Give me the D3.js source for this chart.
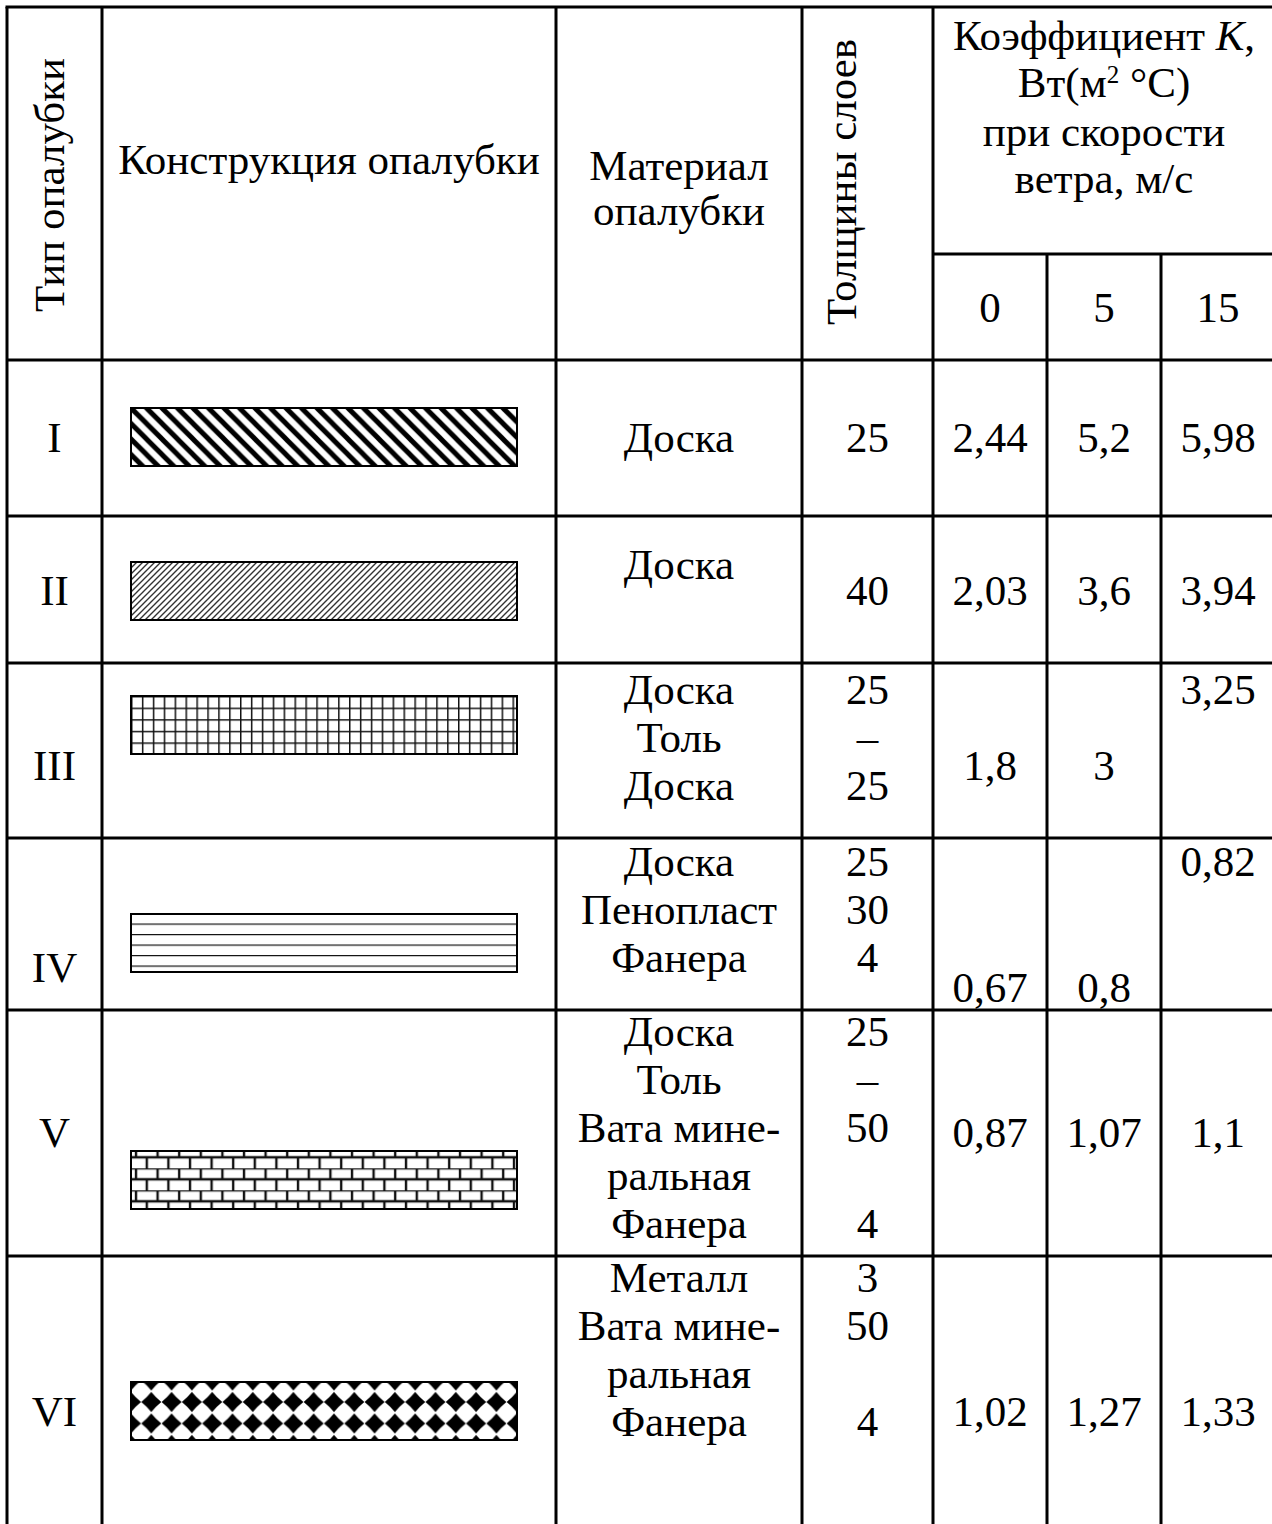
<!DOCTYPE html>
<html>
<head>
<meta charset="utf-8">
<script src="https://cdn.jsdelivr.net/npm/d3@7/dist/d3.min.js"></script>
<style>
  body { margin: 0; background: #fff; }
  text { font-family: "Liberation Serif", "Times New Roman", serif; font-size: 43px; fill: #000; }
</style>
</head>
<body>
<script>
// table data
var types = ['I', 'II', 'III', 'IV', 'V', 'VI'];
var patterns = ['hatchThick', 'hatchThin', 'grid', 'lines', 'brick', 'diamond'];
var materials = [
  ['Доска'],
  ['Доска'],
  ['Доска', 'Толь', 'Доска'],
  ['Доска', 'Пенопласт', 'Фанера'],
  ['Доска', 'Толь', 'Вата мине-', 'ральная', 'Фанера'],
  ['Металл', 'Вата мине-', 'ральная', 'Фанера']
];
var thickness = [
  ['25'],
  ['40'],
  ['25', '–', '25'],
  ['25', '30', '4'],
  ['25', '–', '50', '', '4'],
  ['3', '50', '', '4']
];
var windSpeeds = ['0', '5', '15'];
var k0 = ['2,44', '2,03', '1,8', '0,67', '0,87', '1,02'];
var k5 = ['5,2', '3,6', '3', '0,8', '1,07', '1,27'];
var k15 = ['5,98', '3,94', '3,25', '0,82', '1,1', '1,33'];

// layout
var W = 1272, H = 1524;
var colEdges = [7, 102, 556, 802, 933, 1047, 1161, 1275];
var headTop = 7, subLine = 254;
var rowEdges = [360, 516, 663, 838, 1010, 1256];
var lineH = 48;
var boxX = 131, boxW = 386, boxH = 58;
// per-row vertical anchors (centre of text lines)
var rowLayout = [
  {mat: 438, thick: 438, val: 438, num: 438, k15: 438, box: 437},
  {mat: 565, thick: 591, val: 591, num: 591, k15: 591, box: 591},
  {mat: 690, thick: 690, val: 766, num: 766, k15: 690, box: 725},
  {mat: 862, thick: 862, val: 988, num: 968, k15: 862, box: 943},
  {mat: 1032, thick: 1032, val: 1133, num: 1133, k15: 1133, box: 1180},
  {mat: 1278, thick: 1278, val: 1412, num: 1412, k15: 1412, box: 1411}
];
var base = 14; // centre -> baseline

function cx(i) { return (colEdges[i] + colEdges[i + 1]) / 2; }
function boxTop(r) { return rowLayout[r].box - boxH / 2; }

var svg = d3.select('body').append('svg')
  .attr('width', W).attr('height', H);

var defs = svg.append('defs');
function pat(id, r, w, h, dy) {
  return defs.append('pattern').attr('id', id).attr('patternUnits', 'userSpaceOnUse')
    .attr('x', boxX).attr('y', boxTop(r) + (dy || 0))
    .attr('width', w).attr('height', h);
}

// I: thick diagonal stripes
var p = pat('hatchThick', 0, 15.5, 15.5);
p.append('path').attr('d', 'M-4,-4 L19.5,19.5 M-4,11.5 L4,19.5 M11.5,-4 L19.5,4')
  .attr('stroke', '#000').attr('stroke-width', 5);

// II: thin diagonal stripes
p = pat('hatchThin', 1, 6, 6);
p.append('path').attr('d', 'M-2,8 L8,-2 M-2,2 L2,-2 M4,8 L8,4')
  .attr('stroke', '#333').attr('stroke-width', 1.4);

// III: grid
p = pat('grid', 2, 10.9, 11.6);
p.append('path').attr('d', 'M0,0 V11.6 M0,0 H10.9')
  .attr('stroke', '#111').attr('stroke-width', 3).attr('fill', 'none');

// IV: horizontal lines
p = pat('lines', 3, 20, 10.5, -1);
p.append('path').attr('d', 'M0,0 H20')
  .attr('stroke', '#111').attr('stroke-width', 2.4);

// V: brick
p = pat('brick', 4, 21.6, 22, -4.7);
p.append('path').attr('d', 'M0,0 H21.6 M0,11 H21.6 M5,0 V11 M15.8,11 V22')
  .attr('stroke', '#111').attr('stroke-width', 2.4).attr('fill', 'none');

// VI: black concave diamonds
p = pat('diamond', 5, 20.3, 21.5, -1.5);
p.append('rect').attr('width', 20.3).attr('height', 21.5).attr('fill', '#fff');
[[0, 0], [20.3, 0], [0, 21.5], [20.3, 21.5]].forEach(function(c) {
  var r = 10, q = 4.5;
  p.append('path')
    .attr('d', 'M' + (c[0] - r) + ',' + c[1] +
      ' Q' + (c[0] - q) + ',' + (c[1] - q) + ' ' + c[0] + ',' + (c[1] - r) +
      ' Q' + (c[0] + q) + ',' + (c[1] - q) + ' ' + (c[0] + r) + ',' + c[1] +
      ' Q' + (c[0] + q) + ',' + (c[1] + q) + ' ' + c[0] + ',' + (c[1] + r) +
      ' Q' + (c[0] - q) + ',' + (c[1] + q) + ' ' + (c[0] - r) + ',' + c[1] + 'Z')
    .attr('fill', '#000');
});

// grid lines
var g = svg.append('g').attr('stroke', '#000').attr('stroke-width', 3);
g.append('line').attr('x1', colEdges[0] - 1.5).attr('x2', colEdges[7]).attr('y1', headTop).attr('y2', headTop);
g.append('line').attr('x1', colEdges[4]).attr('x2', colEdges[7]).attr('y1', subLine).attr('y2', subLine);
rowEdges.forEach(function(y) {
  g.append('line').attr('x1', colEdges[0]).attr('x2', colEdges[7]).attr('y1', y).attr('y2', y);
});
colEdges.forEach(function(xv, i) {
  g.append('line').attr('x1', xv).attr('x2', xv)
    .attr('y1', (i === 5 || i === 6) ? subLine : headTop).attr('y2', H);
});

// headers
svg.append('text').attr('transform', 'translate(64,312) rotate(-90)').text('Тип опалубки');
svg.append('text').attr('x', cx(1)).attr('y', 174).attr('text-anchor', 'middle').text('Конструкция опалубки');
svg.append('text').attr('x', cx(2)).attr('y', 180).attr('text-anchor', 'middle').text('Материал');
svg.append('text').attr('x', cx(2)).attr('y', 225).attr('text-anchor', 'middle').text('опалубки');
svg.append('text').attr('transform', 'translate(856,325) rotate(-90)').text('Толщины слоев');

var kx = (colEdges[4] + colEdges[7]) / 2;
var t = svg.append('text').attr('x', kx).attr('y', 50).attr('text-anchor', 'middle');
t.append('tspan').text('Коэффициент ');
t.append('tspan').attr('font-style', 'italic').text('К');
t.append('tspan').text(',');
t = svg.append('text').attr('x', kx).attr('y', 97).attr('text-anchor', 'middle');
t.append('tspan').text('Вт(м');
t.append('tspan').attr('font-size', 25).attr('dy', -14).text('2');
t.append('tspan').attr('dy', 14).text(' °С)');
svg.append('text').attr('x', kx).attr('y', 146).attr('text-anchor', 'middle').text('при скорости');
svg.append('text').attr('x', kx).attr('y', 193).attr('text-anchor', 'middle').text('ветра, м/с');

svg.selectAll('text.speed').data(windSpeeds).enter().append('text')
  .attr('class', 'speed')
  .attr('x', function(d, i) { return cx(4 + i); })
  .attr('y', 322).attr('text-anchor', 'middle').text(function(d) { return d; });

// rows
types.forEach(function(tp, r) {
  var L = rowLayout[r];
  svg.append('text').attr('x', cx(0)).attr('y', L.num + base).attr('text-anchor', 'middle').text(tp);
  svg.append('rect').attr('x', boxX).attr('y', boxTop(r)).attr('width', boxW).attr('height', boxH)
    .attr('fill', 'url(#' + patterns[r] + ')').attr('stroke', '#000').attr('stroke-width', 2);
  materials[r].forEach(function(m, i) {
    svg.append('text').attr('x', cx(2)).attr('y', L.mat + i * lineH + base)
      .attr('text-anchor', 'middle').text(m);
  });
  thickness[r].forEach(function(m, i) {
    svg.append('text').attr('x', cx(3)).attr('y', L.thick + i * lineH + base)
      .attr('text-anchor', 'middle').text(m);
  });
  svg.append('text').attr('x', cx(4)).attr('y', L.val + base).attr('text-anchor', 'middle').text(k0[r]);
  svg.append('text').attr('x', cx(5)).attr('y', L.val + base).attr('text-anchor', 'middle').text(k5[r]);
  svg.append('text').attr('x', cx(6)).attr('y', L.k15 + base).attr('text-anchor', 'middle').text(k15[r]);
});
</script>
</body>
</html>
